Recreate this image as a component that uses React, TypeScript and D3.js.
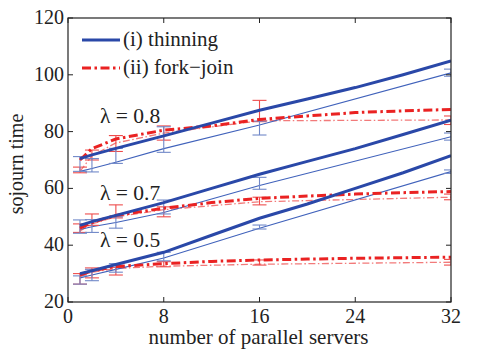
import React from "react";
import * as d3 from "d3";

const xModel = [1, 2, 4, 8, 12, 16, 20, 24, 28, 32];
const xSim = [1, 2, 4, 8, 16, 32];

// (i) thinning – analytic (thick blue)
const thinModel08 = [70.5, 71.8, 74.1, 78.5, 83, 87.5, 91.5, 95.5, 100, 104.9];
const thinModel07 = [47, 48.3, 50.5, 55, 60, 65, 69.5, 74, 79, 84];
const thinModel05 = [30, 31, 33.2, 37.5, 43.5, 49.5, 54.5, 60, 65.5, 71.5];
// (ii) fork-join – analytic (thick red)
const fjModel08 = [70, 74, 77.4, 80.5, 82, 84.3, 85.5, 86.7, 87.3, 87.8];
const fjModel07 = [46, 48, 50.5, 53, 55, 56.5, 57.3, 58, 58.5, 58.9];
const fjModel05 = [29.5, 31, 32.5, 33.5, 34.3, 34.8, 35.1, 35.4, 35.6, 35.8];

// simulations (thin lines)
const thinSim08 = [66, 67, 69.2, 74, 82.3, 100.7];
const thinSim07 = [45.5, 46.5, 48, 51.5, 61, 78.2];
const thinSim05 = [28.5, 29.5, 31.5, 35.5, 46, 65.9];
const fjSim08 = [66, 71.5, 76, 79.5, 83.8, 84.1];
const fjSim07 = [45, 47.5, 50, 52.5, 55.3, 56.9];
const fjSim05 = [29, 30.5, 31.8, 32.6, 33.3, 34];

// error bars [low, high] at xSim
const thinErr08 = [[66, 71.2], [65.8, 70.5], [68.8, 74.1], [72.7, 81.7], [78.8, 83.7], [99.5, 102]];
const thinErr07 = [[44.2, 48.9], [44.5, 49], [46, 50], [51, 55.9], [59.7, 63.9], [77, 79.5]];
const thinErr05 = [[26.3, 29.2], [27.5, 31.5], [30.5, 33.5], [34.5, 37.5], [45.7, 47.1], [65.3, 66.5]];
const fjErr08 = [[65.5, 67.5], [70, 73.5], [73, 78.6], [77, 82], [83.5, 91], [82.5, 85.5]];
const fjErr07 = [[44.5, 47.5], [47, 51], [49.6, 54.2], [50, 53.5], [54.2, 56.9], [56, 58]];
const fjErr05 = [[26.3, 30], [28.5, 32], [29.5, 32.2], [32.4, 34.2], [33, 34.8], [33, 35]];

const xTicks = [0, 8, 16, 24, 32];
const yTicks = [20, 40, 60, 80, 100, 120];
const lambdaLabels = [
  { text: "\u03bb = 0.8", v: 83 },
  { text: "\u03bb = 0.7", v: 55.9 },
  { text: "\u03bb = 0.5", v: 39.2 },
];
const legendItems = ["(i) thinning", "(ii) fork\u2212join"];

const W = 499, H = 355;
const L = 68, R = 451, T = 18, B = 302;
const FONT = '"Liberation Serif", "Times New Roman", Tinos, "DejaVu Serif", serif';

const BLUE = "#2a48a8";
const BLUE_THIN = "#4062bb";
const BLUE_ERR = "#7088c8";
const RED = "#ea2222";
const RED_THIN = "#f27a7a";
const RED_ERR = "#ee4c4c";

export default function App() {
  const x = d3.scaleLinear().domain([0, 32]).range([L, R]);
  const y = d3.scaleLinear().domain([20, 120]).range([B, T]);
  const line = d3
    .line<[number, number]>()
    .x((d) => x(d[0]))
    .y((d) => y(d[1]));
  const mk = (xs: number[], ys: number[]) => line(xs.map((v, i) => [v, ys[i]] as [number, number])) || "";

  const errBars = (errs: number[][], color: string, key: string) =>
    errs.map((e, i) => {
      const cx = x(xSim[i]);
      const y0 = y(e[0]);
      const y1 = y(e[1]);
      return (
        <g key={key + i} stroke={color} strokeWidth={1.1}>
          <line x1={cx} x2={cx} y1={y0} y2={y1} />
          <line x1={cx - 7} x2={cx + 7} y1={y0} y2={y0} />
          <line x1={cx - 7} x2={cx + 7} y1={y1} y2={y1} />
        </g>
      );
    });

  const thinSims = [thinSim08, thinSim07, thinSim05];
  const fjSims = [fjSim08, fjSim07, fjSim05];
  const thinModels = [thinModel08, thinModel07, thinModel05];
  const fjModels = [fjModel08, fjModel07, fjModel05];
  const thinErrs = [thinErr08, thinErr07, thinErr05];
  const fjErrs = [fjErr08, fjErr07, fjErr05];

  return (
    <svg width={W} height={H} style={{ position: "absolute", left: 0, top: 0, background: "#fff" }}>
      <defs>
        <clipPath id="plot">
          <rect x={L} y={T} width={R - L} height={B - T} />
        </clipPath>
      </defs>
      <g clipPath="url(#plot)" fill="none">
        {fjSims.map((s, i) => (
          <path key={"fs" + i} d={mk(xSim, s)} stroke={RED_THIN} strokeWidth={1.3} strokeDasharray="7,2.5,1.5,2.5" />
        ))}
        {thinSims.map((s, i) => (
          <path key={"ts" + i} d={mk(xSim, s)} stroke={BLUE_THIN} strokeWidth={1.1} />
        ))}
        {fjErrs.map((e, i) => errBars(e, RED_ERR, "fe" + i))}
        {thinErrs.map((e, i) => errBars(e, BLUE_ERR, "te" + i))}
        {fjModels.map((s, i) => (
          <path key={"fm" + i} d={mk(xModel, s)} stroke={RED} strokeWidth={3} strokeDasharray="9,3.5,2.5,3.5" />
        ))}
        {thinModels.map((s, i) => (
          <path key={"tm" + i} d={mk(xModel, s)} stroke={BLUE} strokeWidth={3} />
        ))}
      </g>
      {/* frame */}
      <rect x={L} y={T} width={R - L} height={B - T} fill="none" stroke="#222" strokeWidth={1.2} />
      {xTicks.map((t) => (
        <g key={"xt" + t} stroke="#222" strokeWidth={1}>
          <line x1={x(t)} x2={x(t)} y1={B} y2={B - 5} />
          <line x1={x(t)} x2={x(t)} y1={T} y2={T + 5} />
        </g>
      ))}
      {yTicks.map((t) => (
        <g key={"yt" + t} stroke="#222" strokeWidth={1}>
          <line x1={L} x2={L + 5} y1={y(t)} y2={y(t)} />
          <line x1={R} x2={R - 5} y1={y(t)} y2={y(t)} />
        </g>
      ))}
      <g style={{ fontFamily: FONT }} fontSize={20} fill="#222">
        {xTicks.map((t) => (
          <text key={"xl" + t} x={x(t)} y={B + 21} textAnchor="middle">
            {t}
          </text>
        ))}
        {yTicks.map((t) => (
          <text key={"yl" + t} x={L - 4} y={y(t) + 6} textAnchor="end">
            {t}
          </text>
        ))}
        <text x={(L + R) / 2 - 1} y={344} textAnchor="middle" fontSize={21}>
          number of parallel servers
        </text>
        <text transform={`translate(23,${(T + B) / 2 + 4}) rotate(-90)`} textAnchor="middle" fontSize={20}>
          sojourn time
        </text>
        {lambdaLabels.map((l) => (
          <text key={l.text} x={100} y={y(l.v)} fontSize={21.5}>
            {l.text}
          </text>
        ))}
        {legendItems.map((t, i) => (
          <text key={t} x={123} y={46 + i * 28} fontSize={21}>
            {t}
          </text>
        ))}
      </g>
      <line x1={82} x2={120} y1={40} y2={40} stroke={BLUE} strokeWidth={3} />
      <line x1={82} x2={120} y1={68} y2={68} stroke={RED} strokeWidth={3} strokeDasharray="9,3.5,2.5,3.5" />
    </svg>
  );
}
